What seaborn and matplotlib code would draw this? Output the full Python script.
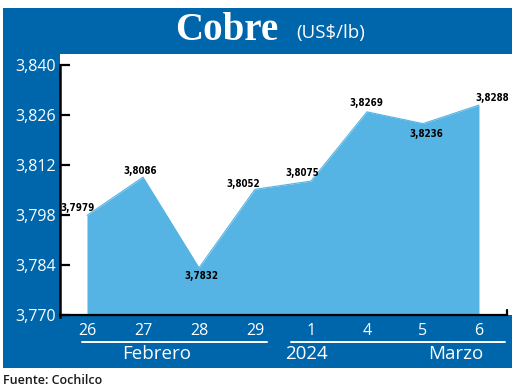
import matplotlib
matplotlib.use("Agg")
import matplotlib.pyplot as plt
import seaborn as sns
import pandas as pd
from matplotlib.patches import Rectangle

# ---- data ----
days = ["26", "27", "28", "29", "1", "4", "5", "6"]
prices = [3.7979, 3.8086, 3.7832, 3.8052, 3.8075, 3.8269, 3.8236, 3.8288]
price_labels = ["3,7979", "3,8086", "3,7832", "3,8052", "3,8075", "3,8269", "3,8236", "3,8288"]
ytick_values = [3.770, 3.784, 3.798, 3.812, 3.826, 3.840]
ytick_labels = ["3,770", "3,784", "3,798", "3,812", "3,826", "3,840"]
group_labels = ["Febrero", "2024", "Marzo"]

# label offsets in pixels (dx, dy)
label_offsets = [(-9, 7), (-3, 6), (2, -8), (-12, 5), (-9, 8), (-1, 9), (3, -10), (13, 7)]

PANEL = "#0066AB"
FILL = "#55B4E3"

sns.set_theme(style="white")
plt.rcParams["font.family"] = ["Open Sans", "DejaVu Sans"]

W, H = 520, 390
fig = plt.figure(figsize=(W / 100, H / 100), dpi=100)
fig.patch.set_facecolor("white")

def px_rect(x0, y0, x1, y1):
    return [x0 / W, 1 - y1 / H, (x1 - x0) / W, (y1 - y0) / H]

# blue panel
r = px_rect(3, 8, 512, 368)
fig.patches.append(Rectangle((r[0], r[1]), r[2], r[3], transform=fig.transFigure,
                             facecolor=PANEL, edgecolor="none", zorder=-5))

ax = fig.add_axes(px_rect(60, 54, 512, 315))
ax.set_zorder(1)
ax.set_facecolor("white")

df = pd.DataFrame({"x": range(len(days)), "price": prices})
sns.lineplot(data=df, x="x", y="price", ax=ax, color=FILL, lw=0.8, zorder=2)
ax.fill_between(df["x"], ytick_values[0], df["price"], color=FILL, lw=0, zorder=2)

ax.set_xlim(-0.482, 7.59)
ax.set_ylim(3.770, 3.8431)

ax.set_yticks(ytick_values)
ax.set_yticklabels(ytick_labels)
ax.set_xticks(range(len(days)))
ax.set_xticklabels(days)
ax.set_xlabel("")
ax.set_ylabel("")

ax.tick_params(axis="y", direction="in", length=7.5, width=1.6, color="black",
               labelcolor="white", labelsize=11.5, pad=3, left=True)
ax.tick_params(axis="x", length=0, labelcolor="white", labelsize=11.5, pad=5.5)

for s in ["top", "right"]:
    ax.spines[s].set_visible(False)
ax.spines["left"].set_color("black")
ax.spines["left"].set_linewidth(1.8)
ax.spines["left"].set_bounds(3.7695, 3.840)
ax.spines["bottom"].set_color("black")
ax.spines["bottom"].set_linewidth(1.6)
ax.spines["bottom"].set_bounds(-0.482, 7.5)
ax.spines["bottom"].set_zorder(3)
ax.axvline(7.5, ymin=0, ymax=0.018, color="black", lw=1.6, zorder=3)

for i, (lab, (dx, dy)) in enumerate(zip(price_labels, label_offsets)):
    ax.annotate(lab, (i, prices[i]), xytext=(dx, dy), textcoords="offset pixels",
                ha="center", va="center", fontsize=7, fontweight="bold",
                fontstretch="condensed",
                family=["DejaVu Sans"], color="black", zorder=4)

# title
fig.text(227 / W, 1 - 30 / H, "Cobre", color="white", fontsize=28, fontweight="bold",
         family=["Liberation Serif", "DejaVu Serif"], ha="center", va="center")
fig.text(331 / W, 1 - 33 / H, "(US$/lb)", color="white", fontsize=13.5,
         ha="center", va="center")

# group lines and labels
fig.add_artist(plt.Line2D([82 / W, 267 / W], [1 - 341.5 / H] * 2, color="white", lw=1.4,
                          transform=fig.transFigure))
fig.add_artist(plt.Line2D([291 / W, 505 / W], [1 - 341.5 / H] * 2, color="white", lw=1.4,
                          transform=fig.transFigure))
for lab, xc in zip(group_labels, [157, 307, 456]):
    fig.text(xc / W, 1 - 354 / H, lab, color="white", fontsize=13.5, ha="center", va="center")

fig.text(3 / W, 1 - 380 / H, "Fuente: Cochilco", color="#1a1a1a", fontsize=9,
         fontweight="semibold", ha="left", va="center")

fig.savefig("out.png", dpi=100)
